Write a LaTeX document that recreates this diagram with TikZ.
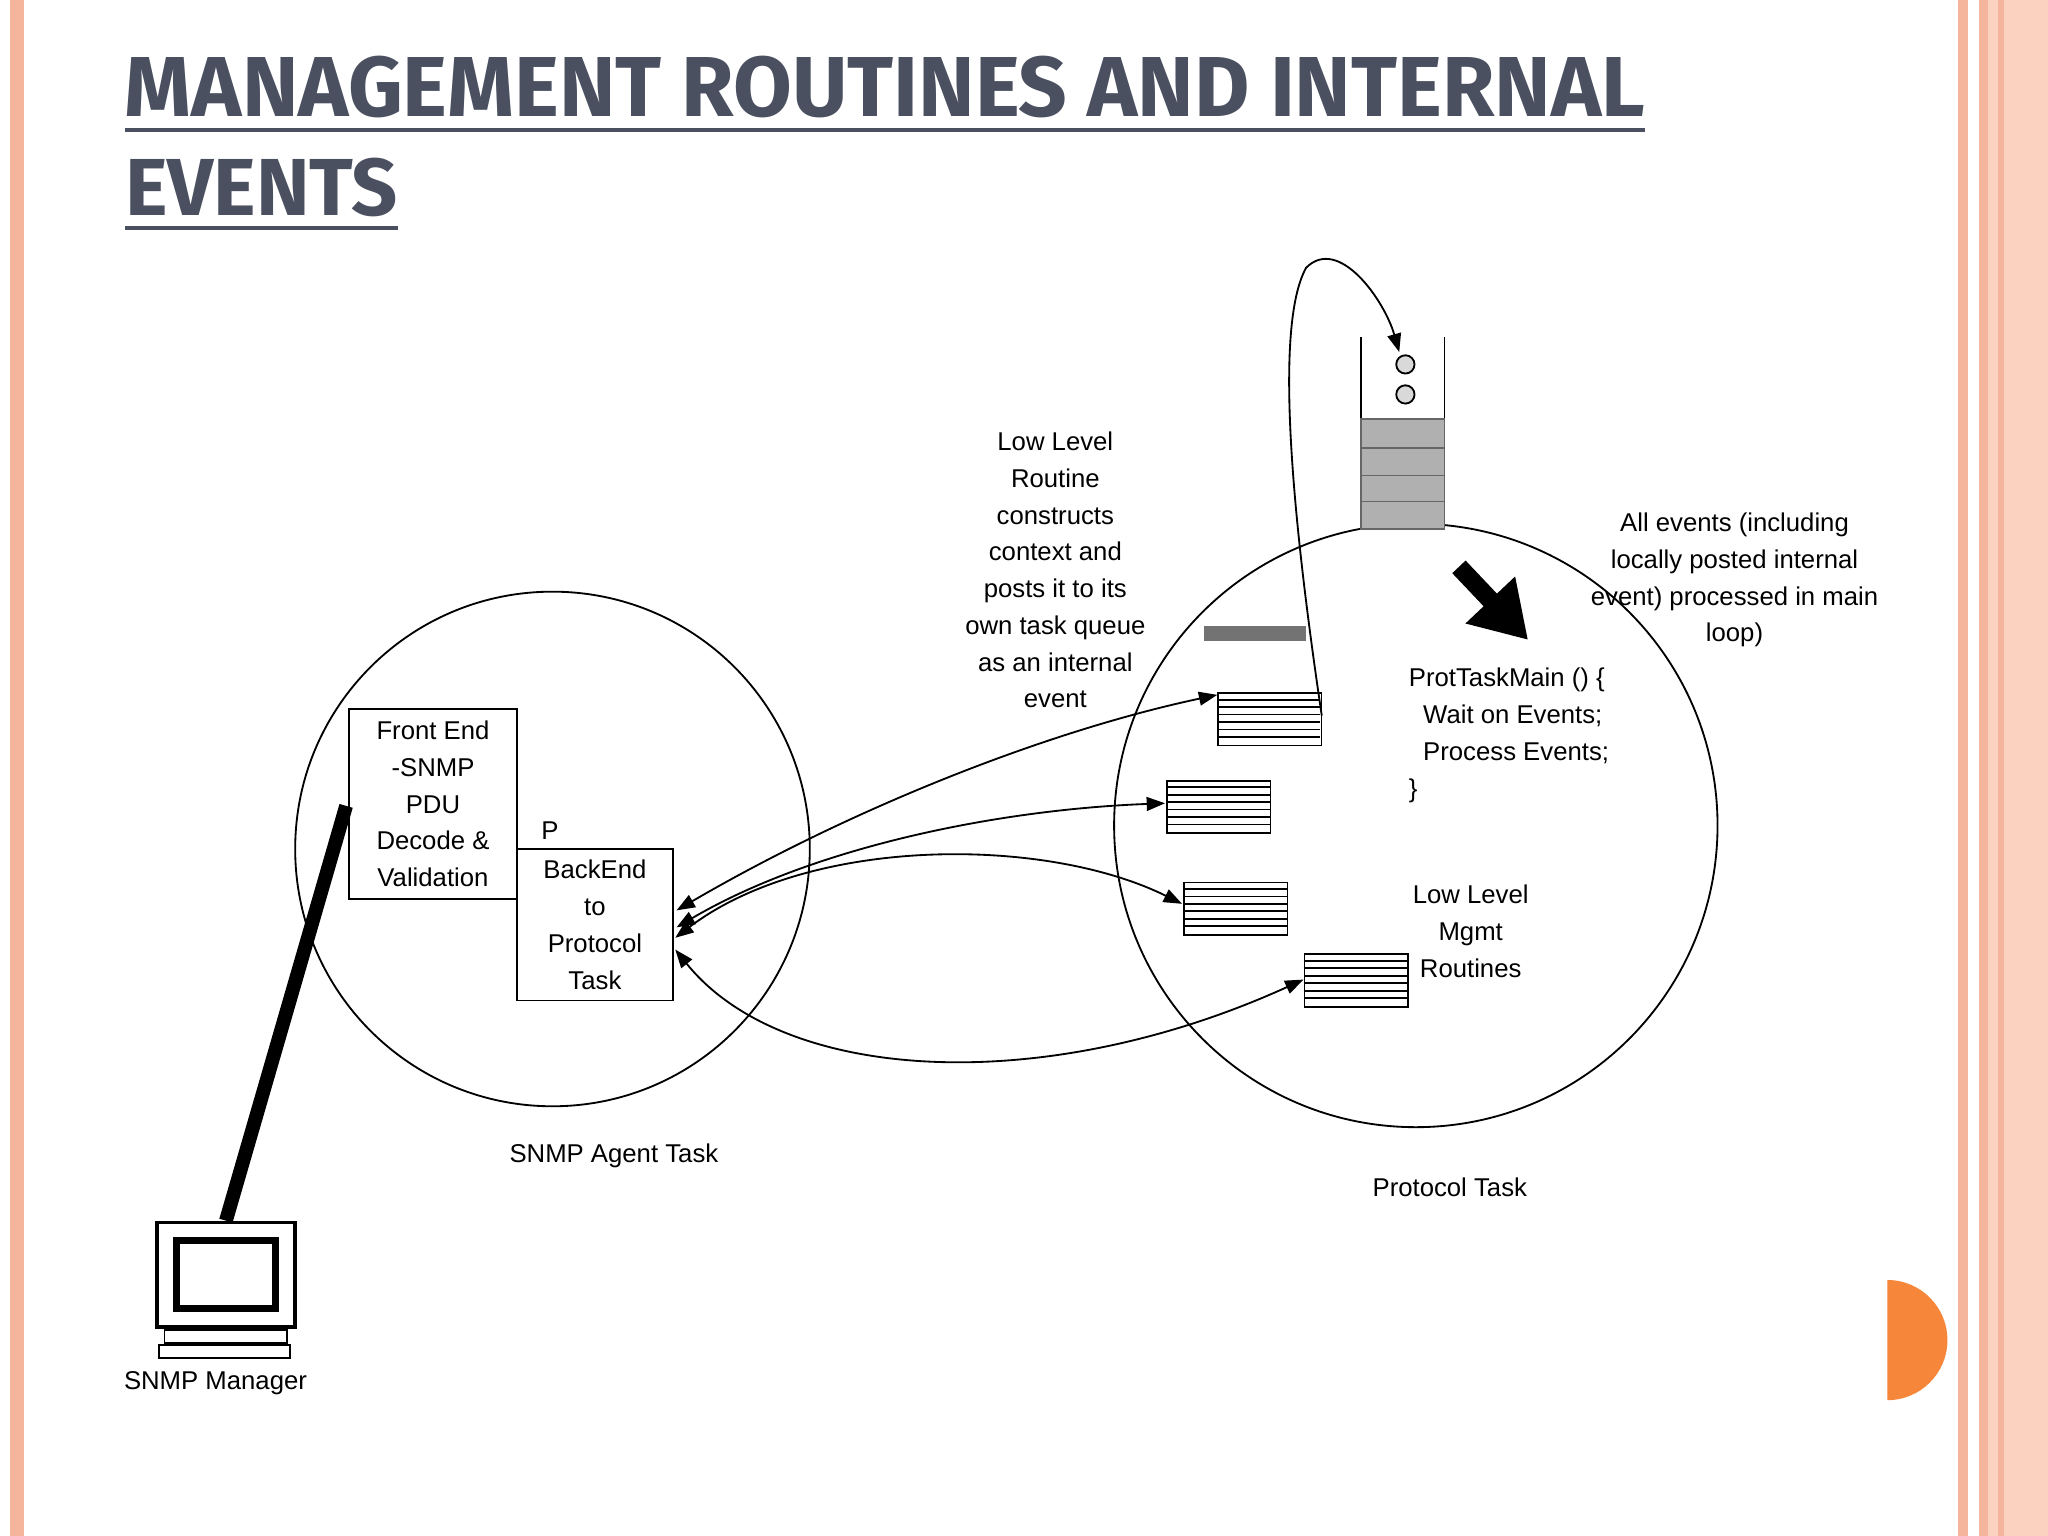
\documentclass[tikz,border=0pt]{standalone}
\usepackage{fontspec}
\setmainfont{Liberation Sans}
\newfontfamily\titlefont{Fira Sans}
\usetikzlibrary{arrows.meta}
\definecolor{salm}{HTML}{F4B59C}
\definecolor{peach}{HTML}{FAD2BF}
\definecolor{titc}{HTML}{4A5060}
\definecolor{qgray}{HTML}{B0B0B0}
\definecolor{orng}{HTML}{F5863A}
\tikzset{
 lbl/.style={inner sep=0pt,font=\fontsize{5.6}{8}\selectfont,align=center},
 box/.style={draw,thin,inner sep=0pt},
 conn/.style={thin,-{Triangle[length=4pt,width=3pt]}},
}
\begin{document}
\begin{tikzpicture}[x=0.01cm,y=-0.01cm]
\useasboundingbox (0,0) rectangle (1568,1176);
\fill[white] (0,0) rectangle (1568,1176);
\fill[salm] (8,0) rectangle (18,1176);
\fill[salm] (1499,0) rectangle (1507,1176);
\fill[salm] (1515,0) rectangle (1522,1176);
\fill[peach] (1522,0) rectangle (1568,1176);
\fill[salm] (1530,0) rectangle (1534,1176);
% title
\node[anchor=south west,inner sep=0pt,text=titc] (t1) at (95,104) {\resizebox{11.63cm}{!}{\titlefont\bfseries\underline{MANAGEMENT ROUTINES AND INTERNAL}}};
\node[anchor=south west,inner sep=0pt,text=titc] (t2) at (95,179) {\resizebox{2.09cm}{!}{\titlefont\bfseries\underline{EVENTS}}};
% orange half disc
\fill[orng] (1445,980) arc[start angle=-90,end angle=90,radius=46] -- cycle;
% circles
\draw[thin] (423,650) circle[radius=197];
\draw[thin] (1084,632) circle[radius=231];
% boxes
\node[box,minimum width=1.29cm,minimum height=1.45cm,lbl] (fe) at (331.5,615.5) {Front End\\-SNMP\\PDU\\Decode \&\\Validation};
\node[box,minimum width=1.19cm,minimum height=1.16cm,lbl] (be) at (455.5,708) {BackEnd\\to\\Protocol\\Task};
\node[lbl] (p) at (421,636) {P};
% manager
\node[draw,thick,minimum width=1.06cm,minimum height=0.8cm,inner sep=0pt] (mon) at (173,976) {};
\draw[line width=1.5pt] (135,950) rectangle (211,1002);
\draw (126,1018) rectangle (220,1028);
\draw (122,1030) rectangle (222,1040);
\draw[line width=3pt] (265,617) -- (mon.north);
\node[lbl] (mgr) at (165,1059) {SNMP Manager};
\node[lbl] (sat) at (470,885) {SNMP Agent Task};
\node[lbl] (pt) at (1110,909) {Protocol Task};
% queue
\draw[thin] (1042,258) -- (1042,321); \draw[thin] (1106,258) -- (1106,321);
\fill[qgray,draw=black!60] (1042,321) rectangle (1106,405);
\foreach \yy in {343,364,384} \draw[black!60] (1042,\yy) -- (1106,\yy);
\draw[fill=black!15] (1076,279) circle[radius=7];
\draw[fill=black!15] (1076,302) circle[radius=7];
\node[inner sep=0pt] (qtop) at (1072,272) {};
\fill[black!55] (922,479) rectangle (1000,491);
% lists
\foreach \nm/\xx/\yy in {la/932/530, lb/893/597, lc/906/675, ld/998/730}{
  \node[draw,thin,minimum width=0.79cm,minimum height=0.4cm,inner sep=0pt,anchor=north west] (\nm) at (\xx,\yy) {};
  \foreach \k in {1,...,6} \draw[thin] (\xx,\yy+\k*5.7) -- (\xx+79,\yy+\k*5.7);
}
% thick arrow
\draw[line width=4pt,-{Triangle[length=12pt,width=14pt]}] (1117,434) -- (1170,490);
% loop arrow
\draw[conn] (1012,548) .. controls (990,400) and (975,250) .. (1000,205) .. controls (1025,180) and (1060,230) .. (qtop);
% arrows between tasks
\draw[conn,{Triangle[length=4pt,width=3pt]}-{Triangle[length=4pt,width=3pt]}] (518,697) .. controls (650,620) and (800,560) .. (932,532);
\draw[conn,{Triangle[length=4pt,width=3pt]}-{Triangle[length=4pt,width=3pt]}] (518,710) .. controls (620,650) and (760,620) .. (892,615);
\draw[conn,{Triangle[length=4pt,width=3pt]}-{Triangle[length=4pt,width=3pt]}] (517,718) .. controls (620,640) and (800,640) .. (905,692);
\draw[conn,{Triangle[length=4pt,width=3pt]}-{Triangle[length=4pt,width=3pt]}] (517,727) .. controls (600,830) and (800,840) .. (998,750);
% texts
\node[lbl,anchor=north] (txt1) at (808,330) {Low Level\\Routine\\constructs\\context and\\posts it to its\\own task queue\\as an internal\\event};
\node[lbl,anchor=north] (txt2) at (1328,392) {All events (including\\locally posted internal\\event) processed in main\\loop)};
\node[lbl,anchor=north west,align=left] (txt3) at (1078,511) {ProtTaskMain () \{\\\ \ Wait on Events;\\\ \ Process Events;\\\}};
\node[lbl,anchor=north] (txt4) at (1126,677) {Low Level\\Mgmt\\Routines};
\end{tikzpicture}
\end{document}
